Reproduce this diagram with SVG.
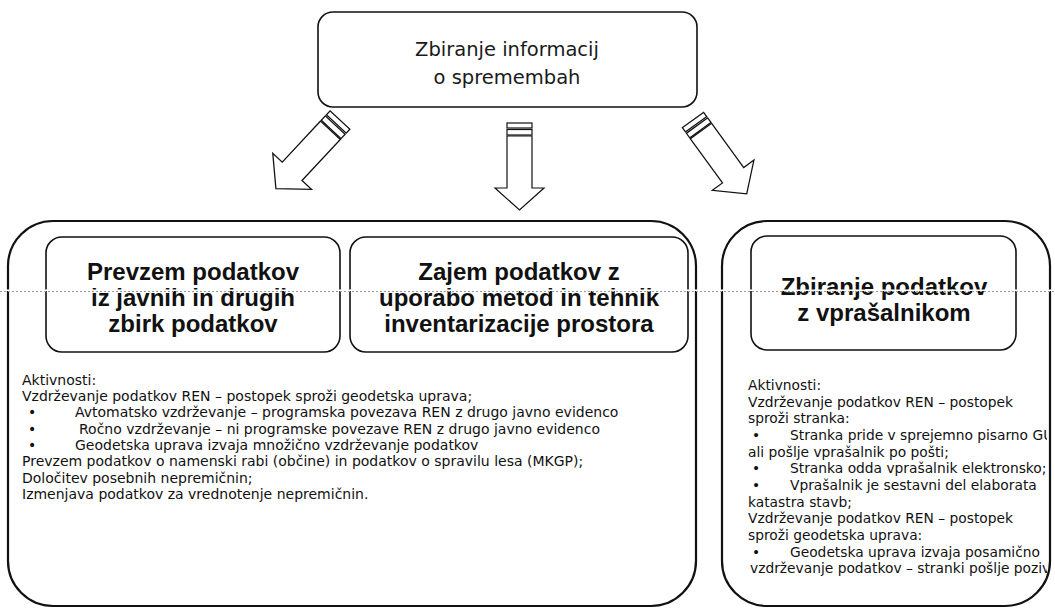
<svg xmlns="http://www.w3.org/2000/svg" width="1055" height="608" viewBox="0 0 1055 608">
  <defs>
    <style>
      .box { fill: #ffffff; stroke: #111111; stroke-width: 1.6; }
      .outer { fill: #ffffff; stroke: #111111; stroke-width: 2.2; }
      .title { font-family: "DejaVu Sans", "Liberation Sans", sans-serif; font-size: 19.5px; fill: #1a1a1a; text-anchor: middle; }
      .head { font-family: "Liberation Sans", Arial, sans-serif; font-size: 24px; font-weight: bold; fill: #111111; text-anchor: middle; }
      .body { font-family: "DejaVu Sans", "Liberation Sans", sans-serif; font-size: 14px; fill: #111111; }
      .bodyR { font-family: "DejaVu Sans", "Liberation Sans", sans-serif; font-size: 13.8px; fill: #111111; }
      .arrow { fill: #ffffff; stroke: #111111; stroke-width: 1.2; stroke-linejoin: miter; }
    </style>
    <g id="arr">
      <rect class="arrow" x="-12.5" y="0" width="25" height="5"/>
      <rect class="arrow" x="-12.5" y="6.5" width="25" height="5.5"/>
      <polygon class="arrow" points="-12.5,13 -12.5,65 -24.5,65 0,87 24.5,65 12.5,65 12.5,13"/>
    </g>
    <clipPath id="clipR">
      <rect x="722" y="221" width="325" height="387"/>
    </clipPath>
  </defs>

  <rect width="1055" height="608" fill="#ffffff"/>

  <g id="node-top">
    <rect class="box" x="318" y="12" width="379" height="95" rx="15"/>
    <text class="title" x="507" y="56">Zbiranje informacij</text>
    <text class="title" x="507" y="84">o spremembah</text>
  </g>

  <g id="connectors">
    <use href="#arr" transform="translate(340,120) rotate(43) scale(1.08)"/>
    <use href="#arr" transform="translate(519.5,123)"/>
    <use href="#arr" transform="translate(693,120) rotate(-36) scale(1.05)"/>
  </g>

  <g id="node-left">
    <rect class="outer" x="8" y="221" width="688" height="385" rx="45"/>
    <g id="node-prevzem">
      <rect class="box" x="46" y="237" width="294" height="115" rx="16"/>
      <text class="head" x="193" y="280">Prevzem podatkov</text>
      <text class="head" x="193" y="306">iz javnih in drugih</text>
      <text class="head" x="193" y="332">zbirk podatkov</text>
    </g>
    <g id="node-zajem">
      <rect class="box" x="350" y="237" width="338" height="115" rx="16"/>
      <text class="head" x="519" y="280">Zajem podatkov z</text>
      <text class="head" x="519" y="306">uporabo metod in tehnik</text>
      <text class="head" x="519" y="332">inventarizacije prostora</text>
    </g>
    <g class="body">
      <text x="22" y="385">Aktivnosti:</text>
      <text x="22" y="401">Vzdrževanje podatkov REN – postopek sproži geodetska uprava;</text>
      <text x="28" y="417">•</text>
      <text x="75" y="417">Avtomatsko vzdrževanje – programska povezava REN z drugo javno evidenco</text>
      <text x="28" y="434">•</text>
      <text x="79" y="434">Ročno vzdrževanje – ni programske povezave REN z drugo javno evidenco</text>
      <text x="28" y="450">•</text>
      <text x="75" y="450">Geodetska uprava izvaja množično vzdrževanje podatkov</text>
      <text x="22" y="466">Prevzem podatkov o namenski rabi (občine) in podatkov o spravilu lesa (MKGP);</text>
      <text x="22" y="483">Določitev posebnih nepremičnin;</text>
      <text x="22" y="499">Izmenjava podatkov za vrednotenje nepremičnin.</text>
    </g>
  </g>

  <g id="node-right">
    <rect class="outer" x="722" y="221" width="328" height="385" rx="45"/>
    <g id="node-vprasalnik">
      <rect class="box" x="751" y="236" width="265" height="114" rx="16"/>
      <text class="head" x="884" y="295">Zbiranje podatkov</text>
      <text class="head" x="884" y="321">z vprašalnikom</text>
    </g>
    <g class="bodyR" clip-path="url(#clipR)">
      <text x="748" y="390">Aktivnosti:</text>
      <text x="748" y="407">Vzdrževanje podatkov REN – postopek</text>
      <text x="748" y="423">sproži stranka:</text>
      <text x="752" y="440">•</text>
      <text x="790" y="440">Stranka pride v sprejemno pisarno GU</text>
      <text x="748" y="457">ali pošlje vprašalnik po pošti;</text>
      <text x="752" y="473">•</text>
      <text x="790" y="473">Stranka odda vprašalnik elektronsko;</text>
      <text x="752" y="490">•</text>
      <text x="790" y="490">Vprašalnik je sestavni del elaborata</text>
      <text x="748" y="507">katastra stavb;</text>
      <text x="748" y="523">Vzdrževanje podatkov REN – postopek</text>
      <text x="748" y="540">sproži geodetska uprava:</text>
      <text x="752" y="557">•</text>
      <text x="790" y="557">Geodetska uprava izvaja posamično</text>
      <text x="750" y="573">vzdrževanje podatkov – stranki pošlje poziv</text>
    </g>
  </g>

  <g id="scan-line">
    <rect x="0" y="289.5" width="1055" height="1.5" fill="#ffffff"/>
    <line x1="0" y1="291.5" x2="1055" y2="291.5" stroke="#9a9a9a" stroke-width="1" stroke-dasharray="2 2"/>
  </g>
</svg>
